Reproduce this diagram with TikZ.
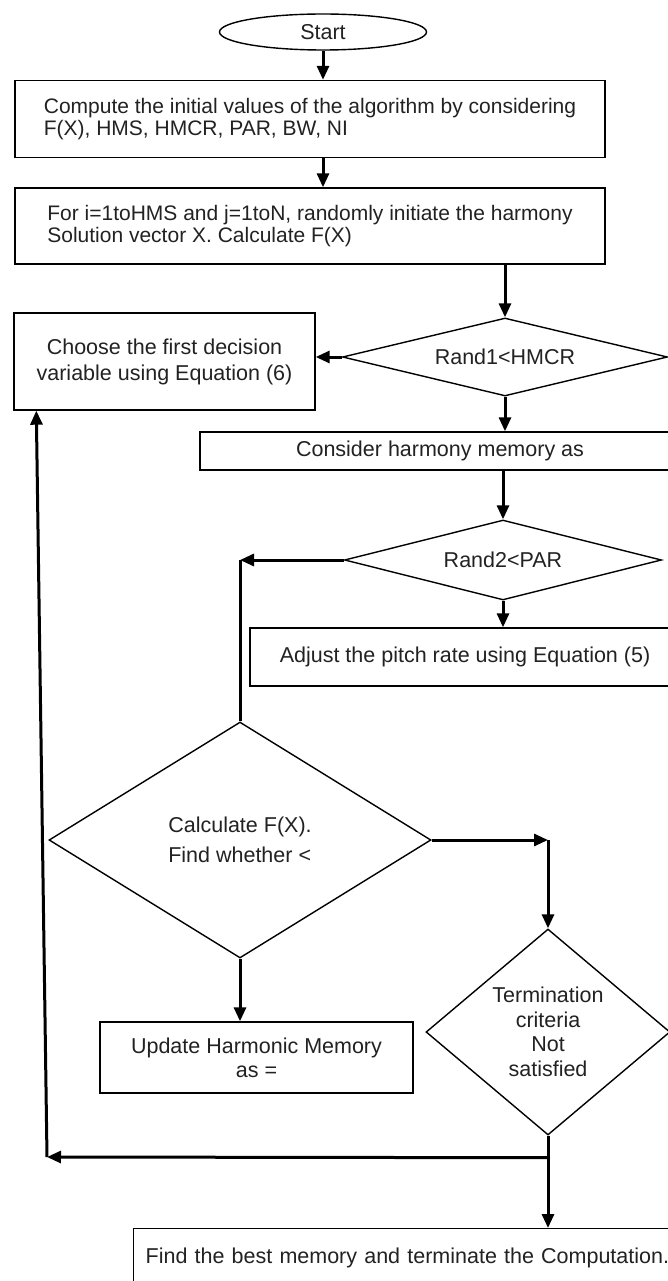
\documentclass[tikz,border=0pt]{standalone}
\usepackage{fontspec}
\setmainfont{Liberation Sans}
\usetikzlibrary{shapes.geometric,arrows.meta,calc}
\definecolor{txt}{HTML}{222222}
\begin{document}
\begin{tikzpicture}[x=1pt,y=-1pt,
  font=\fontsize{21.5}{23}\selectfont,
  box/.style={draw, line width=1.4pt, rectangle, inner sep=0pt, text=txt},
  dec/.style={draw, line width=1.4pt, diamond, inner sep=0pt, text=txt},
  arr/.style={line width=3pt, -{Triangle[length=14pt,width=12pt]}},
  ln/.style={line width=3pt}]
\useasboundingbox (0,0) rectangle (668,1281);
\clip (0,0) rectangle (668,1281);
\fill[white] (0,0) rectangle (668,1281);
\node[draw, ellipse, line width=1.4pt, minimum width=207pt, minimum height=36pt, inner sep=0pt, text=txt] (start) at (323,32) {Start};
\node[box, minimum width=590pt, minimum height=77pt, align=left, font=\fontsize{21}{21.5}\selectfont] (b1) at (310,119) {Compute the initial values of the algorithm by considering\\F(X), HMS, HMCR, PAR, BW, NI};
\node[box, minimum width=590pt, minimum height=76pt, align=left, font=\fontsize{21}{21.5}\selectfont] (b2) at (310,226) {For i=1toHMS and j=1toN, randomly initiate the harmony\\Solution vector X. Calculate F(X)};
\node[dec, aspect=4.17, minimum width=325pt, minimum height=78pt] (d1) at (505,357) {Rand1<HMCR};
\node[box, minimum width=301pt, minimum height=97pt, align=center, font=\fontsize{21.5}{26}\selectfont] (b3) at (164.5,361.5) {Choose the first decision\\variable using Equation (6)};
\node[box, minimum width=480pt, minimum height=38pt] (b4) at (440,451) {Consider harmony memory as};
\node[dec, aspect=4, minimum width=317pt, minimum height=80pt] (d2) at (503,560) {Rand2<PAR};
\node[box, minimum width=430pt, minimum height=58pt] (b5) at (465,657) {Adjust the pitch rate using Equation (5)};
\node[dec, aspect=1.62, minimum width=382pt, minimum height=236pt, align=left, font=\fontsize{21.5}{30}\selectfont] (d3) at (240,840) {Calculate F(X).\\Find whether <};
\node[dec, aspect=1.18, minimum width=244pt, minimum height=206pt, align=center, font=\fontsize{21.5}{24.5}\selectfont] (term) at (548,1032) {Termination\\criteria\\Not\\satisfied};
\node[box, minimum width=313pt, minimum height=71pt, align=center, font=\fontsize{21.5}{24}\selectfont] (upd) at (256.5,1057.5) {Update Harmonic Memory\\as =};
\node[box, anchor=north west, inner xsep=12pt, text width=540pt, minimum height=58pt, align=left] (fin) at (133,1228) {Find the best memory and terminate the Computation.};
\draw[arr] (start.south) -- (start.south |- b1.north);
\draw[arr] (start.south |- b1.south) -- (start.south |- b2.north);
\draw[arr] (d1.north |- b2.south) -- (d1.north);
\draw[arr] (d1.west) -- (b3.east |- d1.west);
\draw[arr] (d1.south) -- (d1.south |- b4.north);
\draw[arr] (d2.north |- b4.south) -- (d2.north);
\draw[arr] (d2.south) -- (d2.south |- b5.north);
\coordinate (c1) at (d3.north |- d2.west);
\draw[arr] (d2.west) -- (c1);
\draw[ln] (c1) -- (d3.north);
\coordinate (c2) at (term.north |- d3.east);
\draw[arr] (d3.east) -- (c2);
\draw[arr] (c2) -- (term.north);
\draw[arr] (d3.south) -- (d3.south |- upd.north);
\coordinate (c3) at ($(term.south)+(0,22)$);
\coordinate (c4) at (47,1157);
\draw[ln] (term.south) -- (c3);
\draw[arr] (c3) -- (c4);
\draw[arr] (c4) -- ($(b3.south west)+(23,0)$);
\draw[arr] (c3) -- (c3 |- fin.north);
\end{tikzpicture}
\end{document}
